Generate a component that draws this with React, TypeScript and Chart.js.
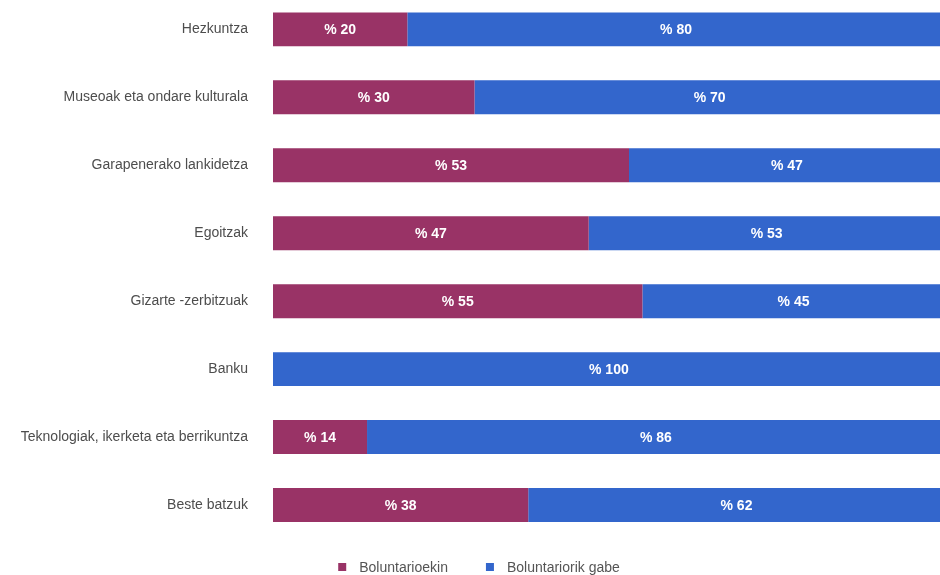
import React, { useEffect, useRef } from "react";
import { Chart, registerables } from "chart.js";

Chart.register(...registerables);

const categories = [
  "Hezkuntza",
  "Museoak eta ondare kulturala",
  "Garapenerako lankidetza",
  "Egoitzak",
  "Gizarte -zerbitzuak",
  "Banku",
  "Teknologiak, ikerketa eta berrikuntza",
  "Beste batzuk",
];
const withVolunteers = [20, 30, 53, 47, 55, 0, 14, 38];
const withoutVolunteers = [80, 70, 47, 53, 45, 100, 86, 62];
const seriesNames = ["Boluntarioekin", "Boluntariorik gabe"];
const seriesColors = ["#993366", "#3366cc"];

const FONT = "'Liberation Sans', Arial, Helvetica, sans-serif";

const valueLabels = {
  id: "valueLabels",
  afterDatasetsDraw(chart: any) {
    const ctx = chart.ctx;
    ctx.save();
    ctx.font = `bold 14px ${FONT}`;
    ctx.fillStyle = "#ffffff";
    ctx.textAlign = "center";
    ctx.textBaseline = "middle";
    chart.data.datasets.forEach((ds: any, di: number) => {
      const meta = chart.getDatasetMeta(di);
      meta.data.forEach((el: any, i: number) => {
        const v = ds.data[i];
        if (!v) return;
        const p = el.getProps(["x", "y", "base"], true);
        ctx.fillText("% " + v, (p.x + p.base) / 2, p.y + 1);
      });
    });
    ctx.restore();
  },
};

const customLegend = {
  id: "customLegend",
  afterDraw(chart: any) {
    const ctx = chart.ctx;
    ctx.save();
    ctx.font = `14px ${FONT}`;
    ctx.textBaseline = "middle";
    const box = 8;
    const gap = 13;
    const itemGap = 38;
    const widths = seriesNames.map((n) => ctx.measureText(n).width);
    const total =
      widths.reduce((a, w) => a + box + gap + w, 0) + itemGap * (widths.length - 1);
    let x = 479 - total / 2;
    const y = chart.height - 8;
    seriesNames.forEach((n, i) => {
      ctx.fillStyle = seriesColors[i];
      ctx.fillRect(x, y - box / 2, box, box);
      x += box + gap;
      ctx.fillStyle = "#555555";
      ctx.textAlign = "left";
      ctx.fillText(n, x, y + 1);
      x += widths[i] + itemGap;
    });
    ctx.restore();
  },
};

export default function App() {
  const ref = useRef<HTMLCanvasElement | null>(null);
  useEffect(() => {
    if (!ref.current) return;
    const chart = new Chart(ref.current, {
      type: "bar",
      data: {
        labels: categories,
        datasets: [
          {
            label: seriesNames[0],
            data: withVolunteers,
            backgroundColor: seriesColors[0],
            barPercentage: 0.5,
            categoryPercentage: 1,
          },
          {
            label: seriesNames[1],
            data: withoutVolunteers,
            backgroundColor: seriesColors[1],
            barPercentage: 0.5,
            categoryPercentage: 1,
          },
        ],
      },
      options: {
        indexAxis: "y",
        animation: false,
        responsive: false,
        maintainAspectRatio: false,
        layout: { padding: { top: 0, bottom: 36, left: 0, right: 0 } },
        plugins: {
          legend: { display: false },
          tooltip: { enabled: false },
        },
        scales: {
          x: {
            stacked: true,
            min: 0,
            max: 99.3,
            display: false,
          },
          y: {
            stacked: true,
            grid: { display: false, drawTicks: false },
            border: { display: false },
            ticks: {
              padding: 25,
              color: "#4d4d4d",
              font: { family: FONT, size: 14 },
            },
            afterFit(scale: any) {
              scale.width = 273;
            },
          },
        },
      },
      plugins: [valueLabels, customLegend],
    });
    return () => chart.destroy();
  }, []);
  return (
    <div style={{ position: "absolute", left: 0, top: -38, width: 940, height: 613 }}>
      <canvas ref={ref} width={940} height={613} style={{ display: "block" }} />
    </div>
  );
}
